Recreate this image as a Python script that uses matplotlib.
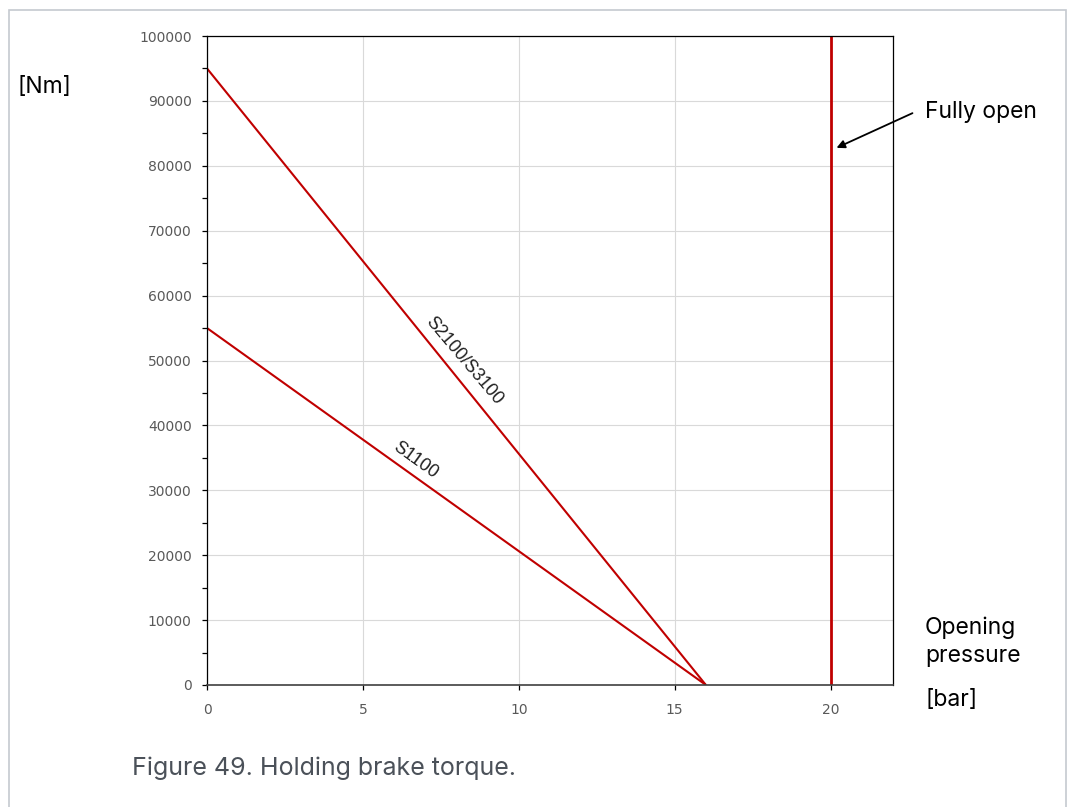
import matplotlib
matplotlib.use("Agg")
import matplotlib.pyplot as plt
from matplotlib.patches import Rectangle, FancyArrowPatch
from matplotlib.ticker import MultipleLocator

# Data
pressure_s2100 = [0, 16]
torque_s2100 = [95000, 0]
pressure_s1100 = [0, 16]
torque_s1100 = [55000, 0]
fully_open_x = [20, 20]
fully_open_y = [0, 100000]
x_ticks = [0, 5, 10, 15, 20]
y_ticks = list(range(0, 100001, 10000))

W, H = 1068, 807
fig = plt.figure(figsize=(W / 100, H / 100), dpi=100)
plt.rcParams['font.family'] = ['Inter', 'DejaVu Sans']

def fx(px):
    return px / W

def fy(py):
    return 1 - py / H

# outer frame
fig.patches.append(Rectangle((fx(9), fy(830)), fx(1066) - fx(9), fy(10) - fy(830),
                             transform=fig.transFigure, fill=False,
                             edgecolor='#c5c9d0', linewidth=1.2))

ax = fig.add_axes([fx(207), fy(685), fx(893) - fx(207), fy(36) - fy(685)])
red = '#c00000'
ax.plot(pressure_s2100, torque_s2100, color=red, lw=1.5, solid_capstyle='butt')
ax.plot(pressure_s1100, torque_s1100, color=red, lw=1.5, solid_capstyle='butt')
ax.plot(fully_open_x, fully_open_y, color=red, lw=2.0, solid_capstyle='butt')

ax.set_xlim(0, 22)
ax.set_ylim(0, 100000)
ax.set_xticks(x_ticks)
ax.set_yticks(y_ticks)
ax.yaxis.set_minor_locator(MultipleLocator(5000))
ax.grid(True, which='major', color='#d9d9d9', lw=0.8)
ax.set_axisbelow(True)
for s in ['top', 'right', 'left']:
    ax.spines[s].set_color('black')
    ax.spines[s].set_linewidth(0.9)
ax.spines['bottom'].set_color('#404040')
ax.spines['bottom'].set_linewidth(1.2)
ax.tick_params(axis='both', which='both', direction='out', length=3.6, width=0.9,
               colors='black', labelcolor='#595959', labelsize=10)
ax.tick_params(axis='y', pad=7.5)
ax.tick_params(axis='x', pad=9.5)
for lab in ax.get_xticklabels() + ax.get_yticklabels():
    lab.set_family(['DejaVu Sans'])

ax.text(8.24, 49900, 'S2100/S3100', rotation=-49.7, rotation_mode='anchor',
        ha='center', va='center', fontsize=13, color='#202020',
        family=['Liberation Sans', 'DejaVu Sans'])
ax.text(6.67, 34670, 'S1100', rotation=-35.8, rotation_mode='anchor',
        ha='center', va='center', fontsize=13, color='#202020',
        family=['Liberation Sans', 'DejaVu Sans'])

fs = 16.5
fig.text(fx(18), fy(93), '[Nm]', fontsize=fs, ha='left', va='baseline', color='black')
fig.text(fx(925), fy(118), 'Fully open', fontsize=fs, ha='left', va='baseline', color='black')
fig.text(fx(925), fy(634), 'Opening', fontsize=fs, ha='left', va='baseline', color='black')
fig.text(fx(925), fy(662), 'pressure', fontsize=fs, ha='left', va='baseline', color='black')
fig.text(fx(925), fy(706), '[bar]', fontsize=fs, ha='left', va='baseline', color='black')
fig.text(fx(132), fy(775), 'Figure 49. Holding brake torque.', fontsize=18,
         ha='left', va='baseline', color='#4b5159')

fig.add_artist(FancyArrowPatch(
    (fx(915), fy(112)), (fx(834), fy(149)), transform=fig.transFigure,
    arrowstyle='-|>', mutation_scale=12, color='black', lw=1.3))

fig.savefig('out.png', dpi=100)
